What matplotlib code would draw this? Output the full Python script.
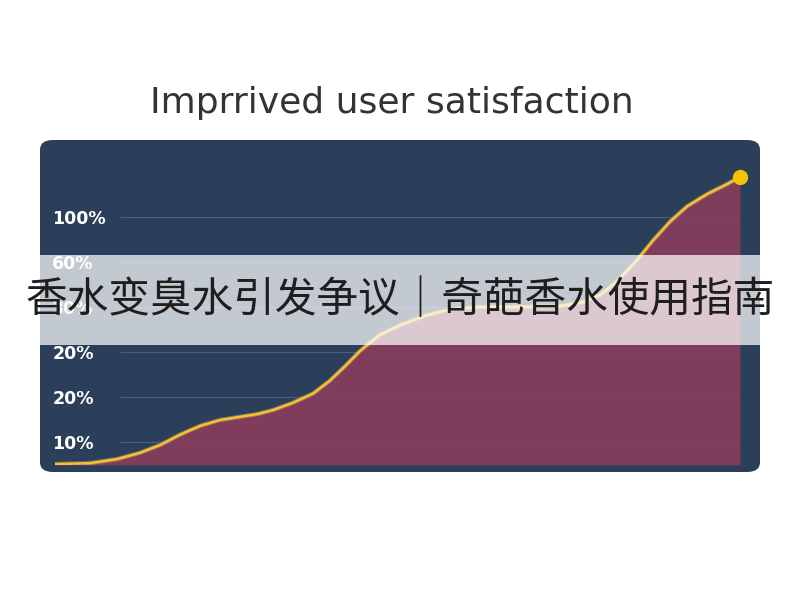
import matplotlib.pyplot as plt
from matplotlib.patches import FancyBboxPatch, Rectangle

# data (x: progress 0-100, y: position in tick units)
x_vals = [0, 5.1, 9.05, 12.4, 15.3, 18.2, 21.2, 24.1, 27.0, 29.5, 31.8, 34.7,
          37.7, 40.1, 42.3, 44.5, 47.4, 50.4, 54.3, 57.7, 62.0, 67.9, 73.7,
          77.1, 79.6, 82.0, 85.0, 87.3, 89.8, 92.3, 95.2, 98.1, 100]
y_vals = [-0.49, -0.47, -0.38, -0.24, -0.07, 0.16, 0.36, 0.49, 0.56, 0.62,
          0.71, 0.87, 1.08, 1.36, 1.68, 2.02, 2.38, 2.6, 2.82, 2.95, 3.0, 3.0,
          3.02, 3.11, 3.27, 3.56, 4.05, 4.48, 4.9, 5.24, 5.51, 5.73, 5.89]
tick_pos = [0, 1, 2, 3, 4, 5]
tick_labels = ["10%", "20%", "20%", "30%", "60%", "100%"]

title = "Imprrived user satisfaction"
banner = "香水变臭水引发争议｜奇葩香水使用指南"

W, H = 800, 600
fig = plt.figure(figsize=(8, 6), dpi=100)
fig.patch.set_facecolor("white")

def px(x0, y0, x1, y1):
    # pixel box (top-left origin) -> figure fraction [l, b, w, h]
    return [x0 / W, 1 - y1 / H, (x1 - x0) / W, (y1 - y0) / H]

# dark panel
l, b, w, h = px(40, 140, 760, 472)
panel = FancyBboxPatch((l, b), w, h, boxstyle="round,pad=0,rounding_size=0.016",
                       transform=fig.transFigure, facecolor="#2c3f5a",
                       edgecolor="none", zorder=-1)
fig.patches.append(panel)

fig.text(0.49, 1 - 103 / H, title, ha="center", va="center",
         fontsize=26, color="#333333")

ax = fig.add_axes(px(55, 140, 740, 465))
ax.set_facecolor("none")
ax.set_xlim(0, 100)
ax.set_ylim((442 - 465) / 45, (442 - 140) / 45)
for s in ax.spines.values():
    s.set_visible(False)

ax.hlines(tick_pos, 9.5, 100, color="#4a6080", lw=0.8, zorder=1)
ax.fill_between(x_vals, y_vals, ax.get_ylim()[0], color="#863c5c",
                alpha=0.94, lw=0, zorder=2)
ax.plot(x_vals, y_vals, color="#f7d060", lw=3.2, alpha=0.35, zorder=3,
        solid_joinstyle="round")
ax.plot(x_vals, y_vals, color="#f2c230", lw=1.8, zorder=3,
        solid_capstyle="round", solid_joinstyle="round")
ax.plot(x_vals[-1], y_vals[-1], "o", color="#f5c300", ms=10, zorder=4,
        clip_on=False)

ax.set_xticks([])
ax.set_yticks(tick_pos)
ax.set_yticklabels(tick_labels, fontsize=12.5, fontweight="bold",
                   color="white", ha="left")
ax.tick_params(axis="y", length=0, pad=2)

# banner overlay
l, b, w, h = px(0, 255, 800, 345)
fig.patches.append(Rectangle((l, b), w, h, transform=fig.transFigure,
                             facecolor="white", alpha=0.72, edgecolor="none",
                             zorder=10))
fig.text(0.5, 1 - 300 / H, banner, ha="center", va="center", fontsize=30,
         color="#1e1e1e", family=["Noto Sans CJK SC", "DejaVu Sans"],
         zorder=11)

fig.savefig("out.png", dpi=100)
